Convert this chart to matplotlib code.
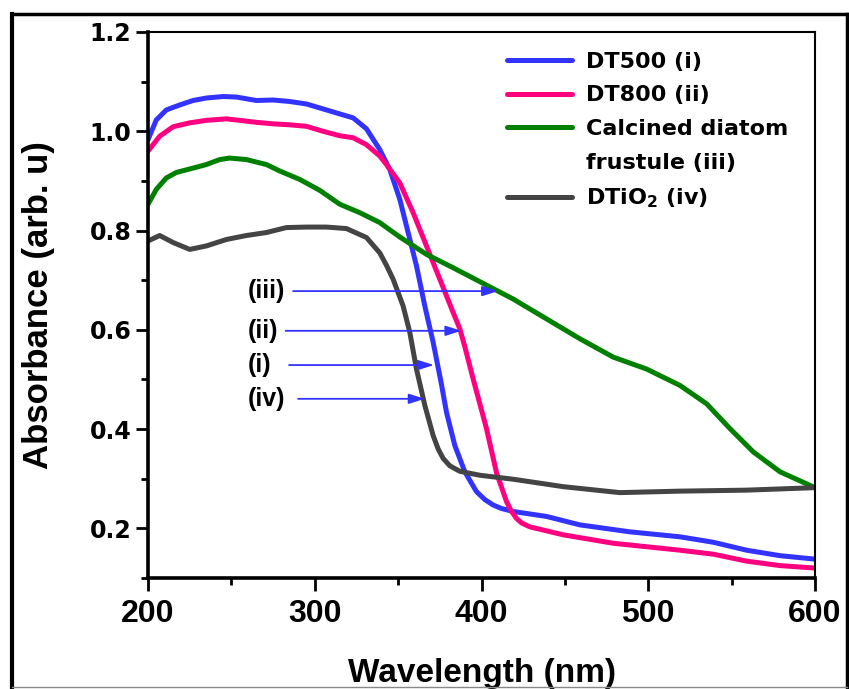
import matplotlib
matplotlib.use("Agg")
import matplotlib.pyplot as plt
from matplotlib.lines import Line2D
from matplotlib.ticker import MultipleLocator, FormatStrFormatter

plt.rcParams["font.family"] = ["Liberation Sans", "DejaVu Sans"]
plt.rcParams["font.weight"] = "bold"
plt.rcParams["mathtext.fontset"] = "custom"
plt.rcParams["mathtext.rm"] = "DejaVu Sans:bold"
plt.rcParams["mathtext.default"] = "rm"

# DT500 (i)
wl_dt500 = [200, 205, 211, 219, 227, 235, 245, 253, 265, 275, 285, 295, 305, 315,
            323, 331, 339, 345, 351, 356, 361, 366, 371, 376, 379, 384, 390, 397,
            402, 407, 412, 419, 439, 459, 489, 519, 539, 559, 579, 600]
abs_dt500 = [0.983, 1.023, 1.043, 1.053, 1.062, 1.067, 1.070, 1.069, 1.062, 1.063,
             1.060, 1.055, 1.045, 1.035, 1.027, 1.005, 0.963, 0.923, 0.863, 0.796,
             0.729, 0.648, 0.575, 0.490, 0.434, 0.367, 0.314, 0.274, 0.258, 0.247,
             0.240, 0.234, 0.224, 0.207, 0.193, 0.183, 0.172, 0.156, 0.145, 0.138]

# DT800 (ii)
wl_dt800 = [200, 207, 215, 225, 235, 247, 255, 265, 275, 285, 295, 305, 315, 323,
            331, 339, 343, 351, 359, 367, 375, 383, 387, 390, 395, 399, 403, 409,
            415, 418, 421, 424, 429, 449, 479, 519, 539, 559, 579, 600]
abs_dt800 = [0.960, 0.990, 1.009, 1.017, 1.022, 1.025, 1.022, 1.018, 1.015, 1.013,
             1.010, 1.000, 0.991, 0.987, 0.973, 0.950, 0.933, 0.896, 0.836, 0.769,
             0.702, 0.635, 0.602, 0.566, 0.501, 0.451, 0.401, 0.312, 0.254, 0.234,
             0.220, 0.211, 0.203, 0.187, 0.170, 0.156, 0.148, 0.134, 0.125, 0.120]

# Calcined diatom frustule (iii)
wl_diatom = [200, 205, 211, 217, 225, 235, 243, 249, 259, 271, 279, 291, 303, 315,
             327, 339, 351, 367, 383, 399, 419, 439, 459, 479, 499, 519, 535, 549,
             563, 579, 600]
abs_diatom = [0.853, 0.883, 0.906, 0.917, 0.924, 0.933, 0.943, 0.946, 0.943, 0.933,
              0.920, 0.903, 0.881, 0.853, 0.836, 0.816, 0.787, 0.752, 0.725, 0.697,
              0.662, 0.622, 0.582, 0.545, 0.521, 0.488, 0.451, 0.401, 0.354, 0.314,
              0.282]

# DTiO2 (iv)
wl_dtio2 = [200, 207, 215, 225, 235, 247, 259, 271, 283, 295, 307, 319, 331, 339,
            343, 347, 353, 357, 361, 366, 371, 374, 377, 381, 387, 399, 419, 449,
            483, 519, 559, 600]
abs_dtio2 = [0.779, 0.790, 0.776, 0.762, 0.769, 0.782, 0.790, 0.796, 0.806, 0.807,
             0.807, 0.804, 0.786, 0.755, 0.730, 0.702, 0.648, 0.595, 0.521, 0.448,
             0.387, 0.360, 0.341, 0.326, 0.315, 0.307, 0.299, 0.284, 0.272, 0.275,
             0.277, 0.282]

# arrow labels: (text, y, x start, x end)
arrow_labels = ["(iii)", "(ii)", "(i)", "(iv)"]
arrow_y = [0.678, 0.598, 0.529, 0.461]
arrow_x0 = [287, 282.5, 284.6, 290]
arrow_x1 = [410, 388, 371.5, 366]

BLUE = "#3333ff"
PINK = "#ff0080"
GREEN = "#008000"
GRAY = "#444444"

fig = plt.figure(figsize=(8.49, 6.89), dpi=100)
ax = fig.add_axes([148 / 849, 111 / 689, 667 / 849, 546 / 689])

style = dict(lw=3.6, solid_joinstyle="round", solid_capstyle="round")
ax.plot(wl_dt500, abs_dt500, color=BLUE, label="DT500 (i)", **style)
ax.plot(wl_dt800, abs_dt800, color=PINK, label="DT800 (ii)", **style)
ax.plot(wl_diatom, abs_diatom, color=GREEN, label="Calcined diatom", **style)
ax.plot(wl_dtio2, abs_dtio2, color=GRAY, label=r"DTiO$_2$ (iv)", **style)

for txt, y, x0, x1 in zip(arrow_labels, arrow_y, arrow_x0, arrow_x1):
    ax.annotate("", xy=(x1, y), xytext=(x0, y),
                arrowprops=dict(arrowstyle="-|>,head_length=0.95,head_width=0.3",
                                color=BLUE, lw=1.3, mutation_scale=10,
                                shrinkA=0, shrinkB=0))
    ax.text(260, y, txt, fontsize=18, fontweight="bold", va="center", ha="left")

ax.set_xlim(200, 600)
ax.set_ylim(0.1, 1.2)
ax.xaxis.set_major_locator(MultipleLocator(100))
ax.xaxis.set_minor_locator(MultipleLocator(50))
ax.yaxis.set_major_locator(MultipleLocator(0.2))
ax.yaxis.set_minor_locator(MultipleLocator(0.1))
ax.yaxis.set_major_formatter(FormatStrFormatter("%.1f"))

ax.tick_params(which="major", direction="out", length=9, width=2)
ax.tick_params(which="minor", direction="out", length=5, width=2)
ax.tick_params(axis="x", which="major", labelsize=23, pad=6)
ax.tick_params(axis="y", which="major", labelsize=17, pad=3)
for lab in ax.get_yticklabels():
    lab.set_family("DejaVu Sans")
    lab.set_fontweight("bold")
for lab in ax.get_xticklabels():
    lab.set_fontweight("bold")

for side in ["left", "bottom"]:
    ax.spines[side].set_linewidth(2.6)
for side in ["top", "right"]:
    ax.spines[side].set_linewidth(1.5)

ax.set_xlabel("Wavelength (nm)", fontsize=24, fontweight="bold")
ax.set_ylabel("Absorbance (arb. u)", fontsize=25, fontweight="bold")
ax.xaxis.set_label_coords(0.5, -0.147)
ax.yaxis.set_label_coords(-0.139, 0.5)

handles, labels = ax.get_legend_handles_labels()
handles.insert(3, Line2D([], [], color="none"))
labels.insert(3, "frustule (iii)")
ax.legend(handles, labels, loc="upper left", bbox_to_anchor=(0.538, 0.964),
          frameon=False, borderpad=0, borderaxespad=0, handlelength=2.93,
          handletextpad=0.63, labelspacing=0.62,
          prop={"family": "DejaVu Sans", "weight": "bold", "size": 16})

# outer frame around the whole picture
fig.add_artist(Line2D([12 / 849, 12 / 849], [1 / 689, 675 / 689], color="black",
                      lw=3, transform=fig.transFigure))
fig.add_artist(Line2D([12 / 849, 847 / 849], [675 / 689, 675 / 689], color="black",
                      lw=2.5, transform=fig.transFigure))
fig.add_artist(Line2D([847 / 849, 847 / 849], [1 / 689, 675 / 689], color="black",
                      lw=2.5, transform=fig.transFigure))
fig.add_artist(Line2D([12 / 849, 847 / 849], [2 / 689, 2 / 689], color="#888888",
                      lw=1, transform=fig.transFigure))

fig.savefig("out.png", dpi=100)
